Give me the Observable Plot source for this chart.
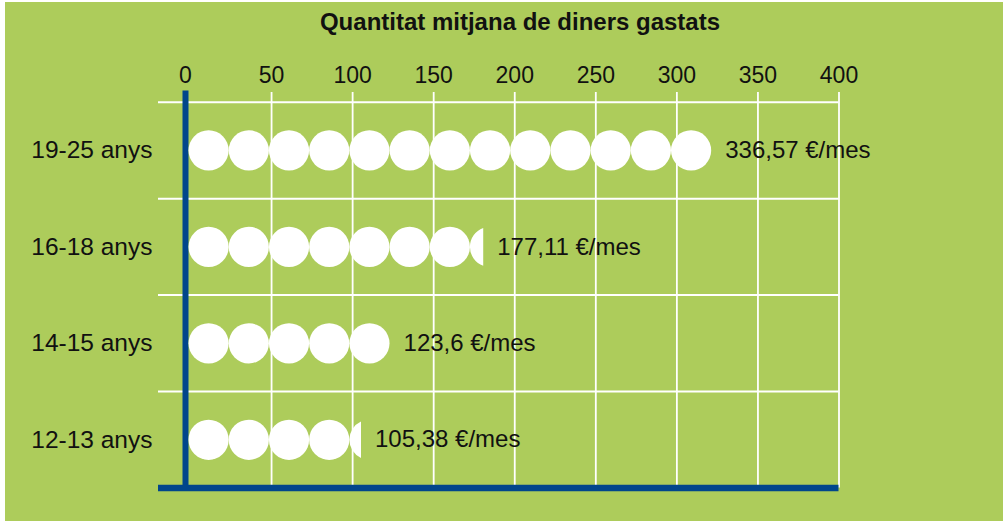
<!DOCTYPE html>
<html><head><meta charset="utf-8">
<script src="https://cdn.jsdelivr.net/npm/d3@7"></script>
<script src="https://cdn.jsdelivr.net/npm/@observablehq/plot@0.6"></script>
<style>
html,body{margin:0;padding:0;background:#fff;}
#card{position:absolute;left:5px;top:2px;width:998px;height:519px;background:#adcc5b;font-family:"Liberation Sans",Arial,sans-serif;}
#title{height:40px;line-height:40px;box-sizing:border-box;padding-left:32px;text-align:center;font-weight:bold;font-size:24px;color:#111;}
</style></head>
<body>
<div id="card"><div id="title">Quantitat mitjana de diners gastats</div><div id="chart"></div></div>
<script>
// Data
const ages = ["19-25 anys", "16-18 anys", "14-15 anys", "12-13 anys"];
const amounts = [336.57, 177.11, 123.6, 105.38];          // €/mes
const iconsShown = [13, 7.33, 5, 4.29];                   // coins drawn per row (as in the picture)
const xTicks = [0, 50, 100, 150, 200, 250, 300, 350, 400];

const ICON = 24.8; // width of one coin along the x scale
const GREEN = "#adcc5b", BLUE = "#00468b";

const rows = ages.map((a, r) => ({r, age: a, amount: amounts[r], icons: iconsShown[r],
  label: String(amounts[r]).replace(".", ",") + " €/mes"}));

const fullCoins = rows.flatMap(d => d3.range(Math.floor(d.icons)).map(i => ({r: d.r, i})));
const partialCoins = rows.filter(d => d.icons % 1 > 0)
  .map(d => ({r: d.r, i: Math.floor(d.icons), frac: d.icons - Math.floor(d.icons)}));

function partialSymbol(frac) {
  return {draw(ctx, size) {
    const r = Math.sqrt(size / Math.PI);
    const x0 = -r + 2 * r * frac;
    const h = Math.sqrt(Math.max(0, r * r - x0 * x0));
    ctx.moveTo(x0, -h);
    ctx.arc(0, 0, r, Math.atan2(-h, x0), Math.atan2(h, x0), true);
    ctx.closePath();
  }};
}

const coinR = 20.1;

const plot = Plot.plot({
  width: 998, height: 479,
  marginTop: 50, marginLeft: 153, marginRight: 164.5, marginBottom: 33.5,
  x: {domain: [0, 400], range: [185, 833.5]},
  y: {domain: [0, 4], range: [59.7, 445.5]},
  style: {background: "transparent", fontSize: "23px", fontFamily: "'Liberation Sans', Arial, sans-serif", color: "#111", overflow: "visible"},
  marks: [
    Plot.ruleY(d3.range(ages.length), {stroke: "white", strokeWidth: 2}),
    Plot.ruleX(xTicks.filter(t => t > 0), {stroke: "white", strokeWidth: 1.8}),
    Plot.ruleY([ages.length], {stroke: BLUE, strokeWidth: 6.5}),
    Plot.ruleX([0], {stroke: BLUE, strokeWidth: 6, dx: -5, insetTop: -1.5}),
    Plot.dot(fullCoins, {x: d => (d.i + 0.5) * ICON, y: d => d.r + 0.5, r: coinR, fill: "white", stroke: null, dx: -2}),
    ...partialCoins.map(p => Plot.dot([p], {x: d => (d.i + 0.5) * ICON, y: d => d.r + 0.5, r: coinR,
      symbol: partialSymbol(p.frac), fill: "white", stroke: null, dx: -2})),
    Plot.text(rows, {x: d => d.icons * ICON, y: d => d.r + 0.5, text: d => d.label, textAnchor: "start",
      dx: 12, fill: "#111", fontSize: 24}),
    Plot.axisX(xTicks.filter(t => t > 0), {anchor: "top", tickSize: 0, tickPadding: 10, label: null, fontSize: 23}),
    Plot.axisX([0], {anchor: "top", tickSize: 0, tickPadding: 10, label: null, dx: -5, fontSize: 23}),
    Plot.axisY(ages.map((_, i) => i + 0.5), {anchor: "left", tickSize: 0, tickPadding: 6, label: null,
      tickFormat: v => ages[Math.floor(v)], fontSize: 24.5})
  ]
});
document.getElementById("chart").append(plot);
</script>
</body></html>
